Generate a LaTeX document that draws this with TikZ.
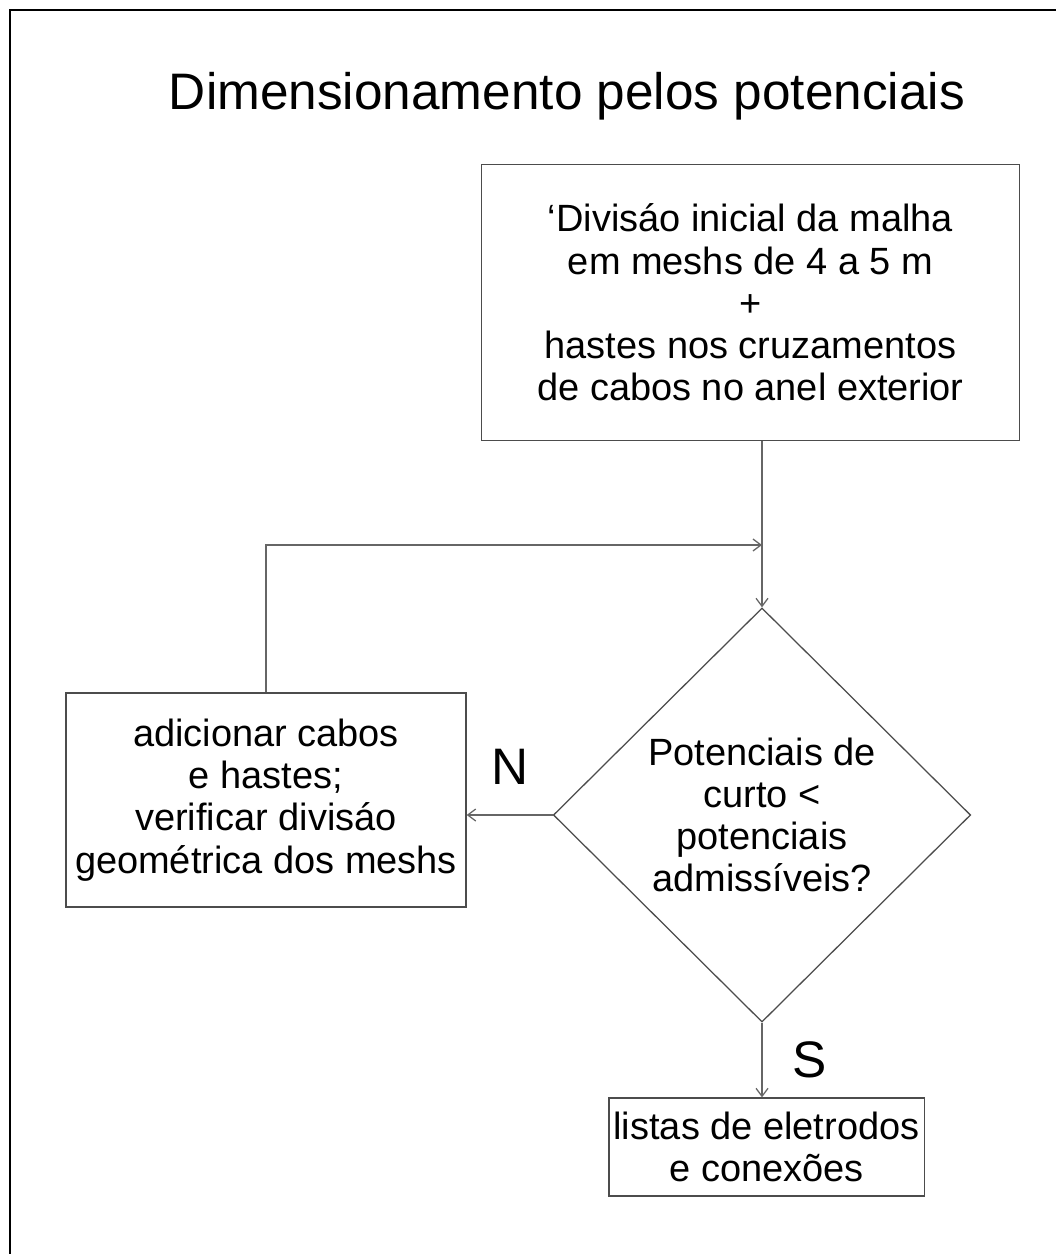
\documentclass[tikz,border=0pt]{standalone}
\usepackage{fontspec}
\setmainfont{Liberation Sans}
\usetikzlibrary{shapes.geometric, arrows.meta}

\begin{document}
\begin{tikzpicture}[
        x=0.025cm, y=-0.025cm,
        caixa/.style={shape=rectangle, draw=black!70, line width=0.9pt, align=center, inner sep=0pt, font=\fontsize{27}{30}\selectfont},
        decisao/.style={shape=diamond, draw=black!70, line width=0.9pt, align=center, inner sep=0pt, font=\fontsize{27}{30}\selectfont},
        seta/.style={draw=black!60, line width=0.9pt, -{Straight Barb[length=2mm, width=3mm]}},
        rotulo/.style={inner sep=0pt, font=\fontsize{36.5}{44}\selectfont},
    ]
    \useasboundingbox (0, 0) rectangle (1056, 1254);
    \draw[line width=1.2pt] (10, 1254) -- (10, 10) -- (1056, 10);

    \node[rotulo, anchor=base] (titulo) at (567, 110) {Dimensionamento pelos potenciais};

    \node[caixa, minimum width=13.43cm, minimum height=6.88cm] (inicio) at (750.5, 302.5) {‘Divisáo inicial da malha\\em meshs de 4 a 5 m\\+\\hastes nos cruzamentos\\de cabos no anel exterior};
    \node[decisao, minimum width=10.43cm, minimum height=10.35cm] (teste) at (762, 815) {Potenciais de\\curto <\\potenciais\\admissíveis?};
    \node[caixa, minimum width=10cm, minimum height=5.35cm] (ajuste) at (266, 800) {adicionar cabos\\e hastes;\\verificar divisáo\\geométrica dos meshs};
    \node[caixa, minimum width=7.88cm, minimum height=2.45cm] (fim) at (766.5, 1147) {listas de eletrodos\\e conexões};
    \coordinate (junta) at (762, 545);

    \draw[seta] (inicio.south -| teste.north) -- (teste.north);
    \draw[seta] (ajuste.north) |- (junta);
    \draw[seta] (teste.west) -- (teste.west -| ajuste.east) node[rotulo, midway, above=0.75cm] {N};
    \draw[seta] (teste.south) -- (teste.south |- fim.north) node[rotulo, midway, right=0.75cm] {S};

\end{tikzpicture}
\end{document}
